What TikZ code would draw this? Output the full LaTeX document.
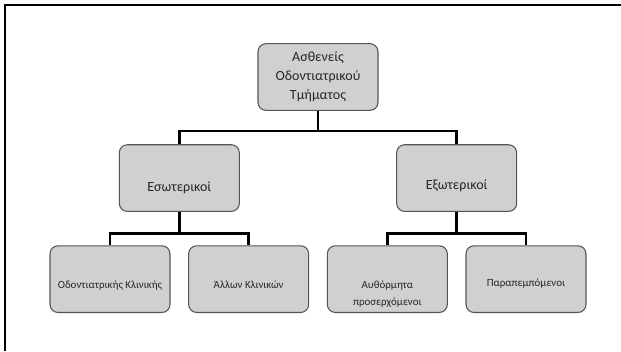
\documentclass[tikz,border=0pt]{standalone}
\usepackage{fontspec}
\setmainfont{Carlito}
\usetikzlibrary{positioning}

\definecolor{boxfill}{HTML}{D0D0D0}
\definecolor{boxline}{HTML}{555555}

\tikzset{
  group/.style={draw=boxline, fill=boxfill, line width=0.8pt, rounded corners=6pt,
    minimum width=90pt, minimum height=50pt, inner sep=0pt},
  link/.style={line width=2pt, draw=black},
  lbig/.style={font=\fontsize{10.5}{14.25}\selectfont, align=center, text=black!85},
  lsmall/.style={font=\fontsize{8.2}{12.75}\selectfont, align=center, text=black!85},
}

\begin{document}
\begin{tikzpicture}
  \useasboundingbox (0,0) rectangle (465.75pt,-263.25pt);
  % frame
  \draw[line width=1.1pt] (3.75pt,-263.25pt) -- (3.75pt,-3.75pt) -- (465.75pt,-3.75pt);

  \node[group, label={[lbig, name=topl]center:Ασθενείς\\Οδοντιατρικού\\Τμήματος}] (top) at (238.5pt,-57.75pt) {};
  \node[group, below=25pt of top, xshift=-104pt,
        label={[lbig, name=intl, yshift=-7pt]center:Εσωτερικοί}] (int) {};
  \node[group, below=25pt of top, xshift=104pt,
        label={[lbig, name=extl, yshift=-6pt]center:Εξωτερικοί}] (ext) {};

  \node[group, below=25pt of int, xshift=-52pt,
        label={[lsmall, name=dentl, yshift=-4.5pt]center:Οδοντιατρικής Κλινικής}] (dent) {};
  \node[group, below=25pt of int, xshift=52pt,
        label={[lsmall, name=othl, yshift=-4.5pt]center:Άλλων Κλινικών}] (oth) {};
  \node[group, below=25pt of ext, xshift=-52pt,
        label={[lsmall, name=selfl, yshift=-11pt]center:Αυθόρμητα\\προσερχόμενοι}] (self) {};
  \node[group, below=25pt of ext, xshift=52pt,
        label={[lsmall, name=refl, yshift=-3.5pt]center:Παραπεμπόμενοι}] (ref) {};

  \draw[link] (top.south) -- ++(0,-15pt) -| (int.north);
  \draw[link] (top.south) -- ++(0,-15pt) -| (ext.north);
  \draw[link] (int.south) -- ++(0,-16pt) -| (dent.north);
  \draw[link] (int.south) -- ++(0,-16pt) -| (oth.north);
  \draw[link] (ext.south) -- ++(0,-16pt) -| (self.north);
  \draw[link] (ext.south) -- ++(0,-16pt) -| (ref.north);
\end{tikzpicture}
\end{document}
